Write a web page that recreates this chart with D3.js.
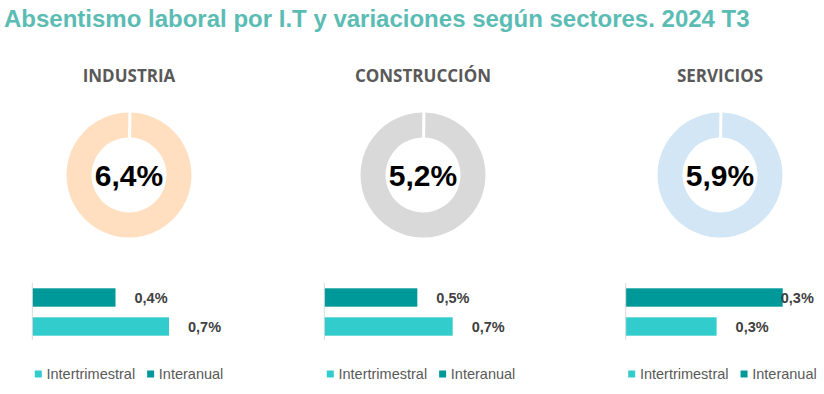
<!DOCTYPE html>
<html><head><meta charset="utf-8">
<script src="https://cdn.jsdelivr.net/npm/d3@7"></script>
<style>
html,body{margin:0;padding:0;background:#fff;}
svg{display:block;}
</style></head>
<body>
<svg id="chart" width="824" height="394"></svg>
<script>
const titleText = "Absentismo laboral por I.T y variaciones según sectores. 2024 T3";
const sectors = ["INDUSTRIA", "CONSTRUCCIÓN", "SERVICIOS"];
const absentismo = [6.4, 5.2, 5.9];
const seriesNames = ["Intertrimestral", "Interanual"];
const interanual = [0.42, 0.50, 0.34];
const intertrimestral = [0.69, 0.69, 0.26];
const axisMin = [0, 0, 0.15];
const axisMax = [0.8076, 0.86, 0.3436];
const donutColors = ["#FFDFC0", "#D9D9D9", "#D2E6F5"];
const colInteranual = "#009999";
const colIntertrim = "#33CCCC";

const svg = d3.select("#chart");
const fmtPct = v => d3.format(".1f")(v).replace(".", ",") + "%";

svg.append("text").attr("x", 4).attr("y", 27)
  .attr("font-family", "Liberation Sans, Arial, sans-serif")
  .attr("font-weight", "bold").attr("font-size", 24)
  .attr("fill", "#5BBCB4").text(titleText);

const centers = [129, 423, 720];
const axisX = [32.3, 324.3, 625.7];
const plotW = 160;
const rOuter = 62.5, rInner = 37.5;
const arc = d3.arc().innerRadius(rInner).outerRadius(rOuter).padRadius(100);
const pie = d3.pie().sort(null).startAngle(0.015).endAngle(0.015 + 2 * Math.PI - 0.0001).padAngle(0.03);

sectors.forEach((s, i) => {
  const g = svg.append("g");
  // sector title
  g.append("text").attr("x", centers[i]).attr("y", 81.5)
    .attr("text-anchor", "middle")
    .attr("font-family", "Open Sans, sans-serif").attr("font-weight", "bold")
    .attr("font-size", 17).attr("fill", "#595959").text(s);
  // donut
  const dg = g.append("g").attr("transform", `translate(${centers[i]},175)`);
  dg.selectAll("path").data(pie([absentismo[i]])).join("path")
    .attr("d", arc).attr("fill", donutColors[i]);
  dg.append("text").attr("x", 0).attr("y", 11)
    .attr("text-anchor", "middle")
    .attr("font-family", "Liberation Sans, Arial, sans-serif").attr("font-weight", "bold")
    .attr("font-size", 30).attr("fill", "#000").text(fmtPct(absentismo[i]));

  // bars
  const x = d3.scaleLinear().domain([axisMin[i], axisMax[i]]).range([axisX[i], axisX[i] + plotW]);
  const y = d3.scaleBand().domain(["Interanual", "Intertrimestral"]).range([283, 341])
    .paddingInner(0.366).paddingOuter(0.183);
  const rows = [
    {k: "Interanual", v: interanual[i], c: colInteranual},
    {k: "Intertrimestral", v: intertrimestral[i], c: colIntertrim}
  ];
  g.selectAll("rect.bar").data(rows).join("rect").attr("class", "bar")
    .attr("x", x.range()[0]).attr("y", d => y(d.k))
    .attr("width", d => x(d.v) - x.range()[0]).attr("height", y.bandwidth())
    .attr("fill", d => d.c);
  g.append("line").attr("x1", axisX[i]).attr("x2", axisX[i]).attr("y1", 283).attr("y2", 340)
    .attr("stroke", "#D9D9D9").attr("stroke-width", 1);
  g.selectAll("text.lbl").data(rows).join("text").attr("class", "lbl")
    .attr("font-family", "Liberation Sans, Arial, sans-serif").attr("font-weight", "bold")
    .attr("font-size", 14.5).attr("fill", "#404040")
    .attr("y", d => y(d.k) + y.bandwidth() / 2).attr("dy", "0.35em")
    .text(d => fmtPct(d.v))
    .attr("x", function(d) {
      const w = this.getComputedTextLength();
      const end = x(d.v);
      return (end + 19 + w > axisX[i] + 195) ? end - 2 : end + 19;
    });

  // legend
  const lg = g.append("g").attr("transform", `translate(${axisX[i] + 2.5},374)`);
  let off = 0;
  seriesNames.forEach((n, j) => {
    lg.append("rect").attr("x", off).attr("y", -3.5).attr("width", 7).attr("height", 7)
      .attr("fill", n === "Interanual" ? colInteranual : colIntertrim);
    const t = lg.append("text").attr("x", off + 11.7).attr("y", 0).attr("dy", "0.35em")
      .attr("font-family", "Liberation Sans, Arial, sans-serif")
      .attr("font-size", 14.5).attr("fill", "#595959").text(n);
    off += 11.7 + t.node().getComputedTextLength() + 12;
  });
});
</script>
</body></html>
